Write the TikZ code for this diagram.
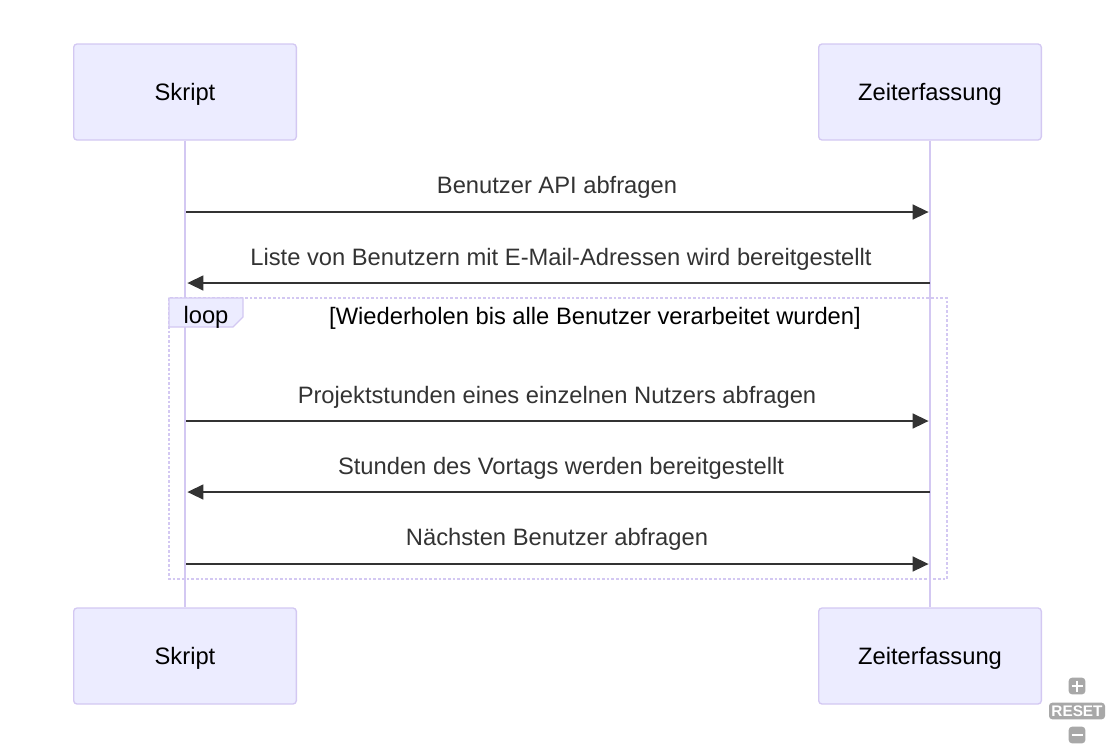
\documentclass[tikz,border=0pt]{standalone}
\usepackage{fontspec}
\setmainfont{Liberation Sans}
\usetikzlibrary{positioning}
\usetikzlibrary{calc}
\usetikzlibrary{arrows.meta}
\definecolor{actorfill}{HTML}{ECECFF}
\definecolor{actorline}{HTML}{D3C8F2}
\definecolor{msgcolor}{HTML}{333333}
\definecolor{btngray}{HTML}{A8A8A8}
\begin{document}
\begin{tikzpicture}
			[
				x = 0.75pt, y = -0.75pt,
				actor/.style = {rectangle, minimum width = 167pt, minimum height = 72pt, rounded corners = 2.5pt, fill = actorfill, draw = actorline, line width = 1pt},
				actortext/.style = {font = \fontsize{17.8}{21}\selectfont, text = black},
				lifeline/.style = {draw = actorline, line width = 2pt},
				msg/.style = {draw = msgcolor, line width = 1.8pt, -{Triangle[length = 12pt, width = 11pt]}, shorten >= 1pt},
				msglabel/.style = {font = \fontsize{17.8}{21}\selectfont, text = msgcolor, inner sep = 0pt},
				loopbox/.style = {draw = actorline, line width = 2pt, dash pattern = on 2pt off 1.5pt},
				button/.style = {rectangle, rounded corners = 2.5pt, fill = btngray, text = white, inner sep = 0pt, font = \fontsize{11.5}{12}\selectfont\bfseries},
			]
			\useasboundingbox (0,0) rectangle (1116,751);
			% actors
			\node (skript) [actor] at (185,92) {};
			\node (zeit) [actor] at (930,92) {};
			\node (skriptB) [actor] at (185,656) {};
			\node (zeitB) [actor] at (930,656) {};
			\node (skriptT) [actortext] at ($(skript.center) + (0,2)$) {Skript};
			\node (zeitT) [actortext] at ($(zeit.center) + (0,2)$) {Zeiterfassung};
			\node (skriptBT) [actortext] at ($(skriptB.center) + (0,2)$) {Skript};
			\node (zeitBT) [actortext] at ($(zeitB.center) + (0,2)$) {Zeiterfassung};
			\draw [lifeline] (skript.south) -- (skriptB.north);
			\draw [lifeline] (zeit.south) -- (zeitB.north);
			% loop frame
			\draw [loopbox] (169,298) rectangle (947,579);
			\filldraw [fill = actorfill, draw = actorline, line width = 1pt] (169,298) -- (243,298) -- (243,317) -- (233,327) -- (169,327) -- cycle;
			\node (looptxt) [actortext] at (206,317) {loop};
			\node (cond) [actortext] at (595,318) {[Wiederholen bis alle Benutzer verarbeitet wurden]};
			% message end points
			\foreach \n/\y in {1/212, 2/283, 3/421, 4/492, 5/564}{
				\coordinate (s\n) at (186,\y);
				\coordinate (z\n) at (930,\y);
			}
			% messages
			\draw [msg] (s1) -- (z1);
			\node (l1) [msglabel] at (557,187) {Benutzer API abfragen};
			\draw [msg] (z2) -- (s2);
			\node (l2) [msglabel] at (561,259) {Liste von Benutzern mit E-Mail-Adressen wird bereitgestellt};
			\draw [msg] (s3) -- (z3);
			\node (l3) [msglabel] at (557,397) {Projektstunden eines einzelnen Nutzers abfragen};
			\draw [msg] (z4) -- (s4);
			\node (l4) [msglabel] at (561,468) {Stunden des Vortags werden bereitgestellt};
			\draw [msg] (s5) -- (z5);
			\node (l5) [msglabel] at (557,539) {Nächsten Benutzer abfragen};
			% zoom buttons
			\node (plus) [button, minimum width = 12.5pt, minimum height = 12.5pt] at (1077,686) {};
			\draw [white, line width = 2pt] ($(plus.center) + (-5.5,0)$) -- ($(plus.center) + (5.5,0)$) ($(plus.center) + (0,-5.5)$) -- ($(plus.center) + (0,5.5)$);
			\node (reset) [button, minimum width = 42pt, minimum height = 12.5pt] at (1077,711) {RESET};
			\node (minus) [button, minimum width = 12.5pt, minimum height = 12.5pt] at (1077,735) {};
			\draw [white, line width = 2pt] ($(minus.center) + (-5.5,0)$) -- ($(minus.center) + (5.5,0)$);
		\end{tikzpicture}
\end{document}
